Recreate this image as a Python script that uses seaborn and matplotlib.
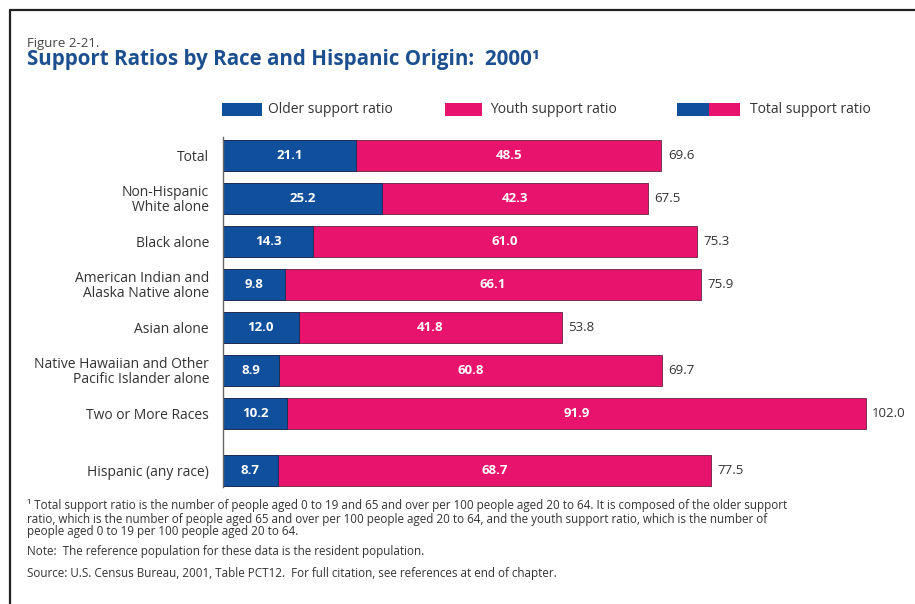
import matplotlib
matplotlib.use("Agg")
import matplotlib.pyplot as plt
from matplotlib.patches import Rectangle
from matplotlib.lines import Line2D
import seaborn as sns
import pandas as pd

# -------------------------
# data
# -------------------------
groups = ["Total", "Non-Hispanic\nWhite alone", "Black alone",
          "American Indian and\nAlaska Native alone", "Asian alone",
          "Native Hawaiian and Other\nPacific Islander alone",
          "Two or More Races", "Hispanic (any race)"]
older = [21.1, 25.2, 14.3, 9.8, 12.0, 8.9, 10.2, 8.7]
youth = [48.5, 42.3, 61.0, 66.1, 41.8, 60.8, 91.9, 68.7]
total = [69.6, 67.5, 75.3, 75.9, 53.8, 69.7, 102.0, 77.5]

# row slots (Hispanic sits a bit apart from the race groups)
rows = [0, 1, 2, 3, 4, 5, 6, 7.33]

BLUE = "#0f4f9c"
PINK = "#e8136c"
GREY = "#333333"
TITLE_BLUE = "#1b4f8f"

df = pd.DataFrame({"group": groups, "older": older, "youth": youth,
                   "total": total, "row": rows})

sns.set_style("white")
plt.rcParams["font.family"] = ["Open Sans", "DejaVu Sans"]

W, H = 915, 604
fig = plt.figure(figsize=(W / 100, H / 100), dpi=100)

def fx(px):
    return px / W

def fy(py):
    return 1 - py / H

# axes placed so 0 sits at x=223px, 6.3 px per unit
ax = fig.add_axes([fx(223), fy(487), fx(W - 223), (487 - 137) / H])

# total bar in pink, older share drawn over it in blue
sns.barplot(data=df, x="total", y="row", orient="y", native_scale=True,
            color=PINK, saturation=1, width=0.72,
            edgecolor="#6a2040", linewidth=0.6, ax=ax)
sns.barplot(data=df, x="older", y="row", orient="y", native_scale=True,
            color=BLUE, saturation=1, width=0.72,
            edgecolor="#1a2a50", linewidth=0.6, ax=ax)

ax.set_xlim(0, (W - 223) / 6.3)
ax.set_ylim(7.72, -0.42)
ax.set_xlabel("")
ax.set_ylabel("")
ax.set_xticks([])
ax.set_yticks(rows)
ax.set_yticklabels(groups, fontsize=10, color=GREY, linespacing=1.0,
                   multialignment="right")
ax.tick_params(axis="y", length=0, pad=10)
for s in ["top", "right", "bottom"]:
    ax.spines[s].set_visible(False)
ax.spines["left"].set_color("#666666")
ax.spines["left"].set_linewidth(1.0)

# value labels
for r, o, y, t in zip(rows, older, youth, total):
    ax.text(o / 2, r, f"{o:.1f}", ha="center", va="center",
            color="white", fontsize=9.5, fontweight="bold")
    ax.text(o + (t - o) / 2, r, f"{y:.1f}", ha="center", va="center",
            color="white", fontsize=9.5, fontweight="bold")
    ax.text(t + 1.0, r, f"{t:.1f}", ha="left", va="center",
            color=GREY, fontsize=9.5)

# titles
fig.text(fx(27), fy(47), "Figure 2-21.", fontsize=9.5, color="#444444",
         va="baseline")
fig.text(fx(27), fy(65), "Support Ratios by Race and Hispanic Origin:  2000\u00b9",
         fontsize=14.8, fontweight="bold", color=TITLE_BLUE, va="baseline")

# legend, drawn by hand
def box(x0, x1, color):
    fig.add_artist(Rectangle((fx(x0), fy(116)), fx(x1 - x0), 13 / H,
                             facecolor=color, edgecolor="none",
                             transform=fig.transFigure))

box(222, 262, BLUE)
fig.text(fx(268), fy(109.5), "Older support ratio", fontsize=10,
         color=GREY, va="center")
box(445, 482, PINK)
fig.text(fx(490), fy(109.5), "Youth support ratio", fontsize=10,
         color=GREY, va="center")
box(677, 709, BLUE)
box(709, 740, PINK)
fig.text(fx(750), fy(109.5), "Total support ratio", fontsize=10,
         color=GREY, va="center")

# footnotes
notes = [
    (506, "\u00b9 Total support ratio is the number of people aged 0 to 19 and 65 and over per 100 people aged 20 to 64. It is composed of the older support"),
    (519, "ratio, which is the number of people aged 65 and over per 100 people aged 20 to 64, and the youth support ratio, which is the number of"),
    (532, "people aged 0 to 19 per 100 people aged 20 to 64."),
    (552, "Note:  The reference population for these data is the resident population."),
    (573, "Source: U.S. Census Bureau, 2001, Table PCT12.  For full citation, see references at end of chapter."),
]
for py, txt in notes:
    fig.text(fx(27), fy(py), txt, fontsize=8.4, color=GREY, va="center")

# frame lines at top and left
fig.add_artist(Line2D([fx(10), 1], [fy(10), fy(10)], color="#222222",
                      linewidth=1.6, transform=fig.transFigure))
fig.add_artist(Line2D([fx(10), fx(10)], [fy(10), 0], color="#222222",
                      linewidth=1.6, transform=fig.transFigure))

fig.savefig("out.png", dpi=100)
